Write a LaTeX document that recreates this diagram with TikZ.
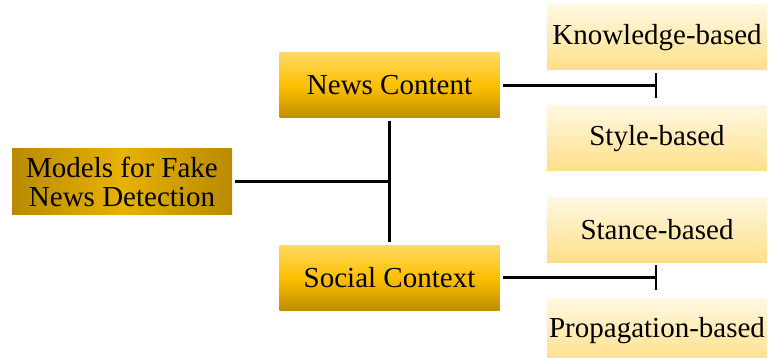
\documentclass[tikz,border=0pt]{standalone}
\usepackage{fontspec}
\setmainfont{Liberation Serif}
\usetikzlibrary{arrows.meta,positioning}

\definecolor{darkgold}{HTML}{B88A00}
\definecolor{midgold}{HTML}{E8B200}
\definecolor{amber}{HTML}{FFC000}
\definecolor{paleamber}{HTML}{FFD966}
\definecolor{deepamber}{HTML}{BE8E00}
\definecolor{cream}{HTML}{FFF8E2}
\definecolor{lightamber}{HTML}{FFDF88}

\begin{document}
\begin{tikzpicture} [x=1pt, y=-1pt,
    every node/.style={minimum width=220pt, minimum height=65pt, inner sep=0pt, outer sep=3pt,
        font=\fontsize{29}{29}\selectfont, align=center},
    % middle color has to come after the outer ones
    rootbox/.style={left color=darkgold, right color=darkgold, middle color=midgold},
    groupbox/.style={top color=paleamber, bottom color=deepamber, middle color=amber},
    leafbox/.style={top color=cream, bottom color=lightamber},
    link/.style={line width=2.5pt},
    split/.style={link, -{Bar[width=25pt,line width=2.5pt]}}]
\useasboundingbox (0,0) rectangle (770,358);

% root and the two groups
\node[rootbox] (models) at (122,181.5) {Models for Fake\\News Detection};
\node[groupbox] (content) at (389.5,85.5) {News Content};
\node[groupbox] (context) at (389.5,277.5) {Social Context};

% leaves
\node[leafbox] (knowledge) at (657,37.5) {Knowledge-based};
\node[leafbox, below=30pt of knowledge] (style) {Style-based};
\node[leafbox] (stance) at (657,229.5) {Stance-based};
\node[leafbox, below=30pt of stance] (propagation) {Propagation-based};

% connectors
\draw[link] (content.south) -- (context.north);
\draw[link] (models.east) -- (models.east -| content.south);
\draw[split] (content.east) -- (content.east -| knowledge.south);
\draw[split] (context.east) -- (context.east -| stance.south);

\end{tikzpicture}
\end{document}
